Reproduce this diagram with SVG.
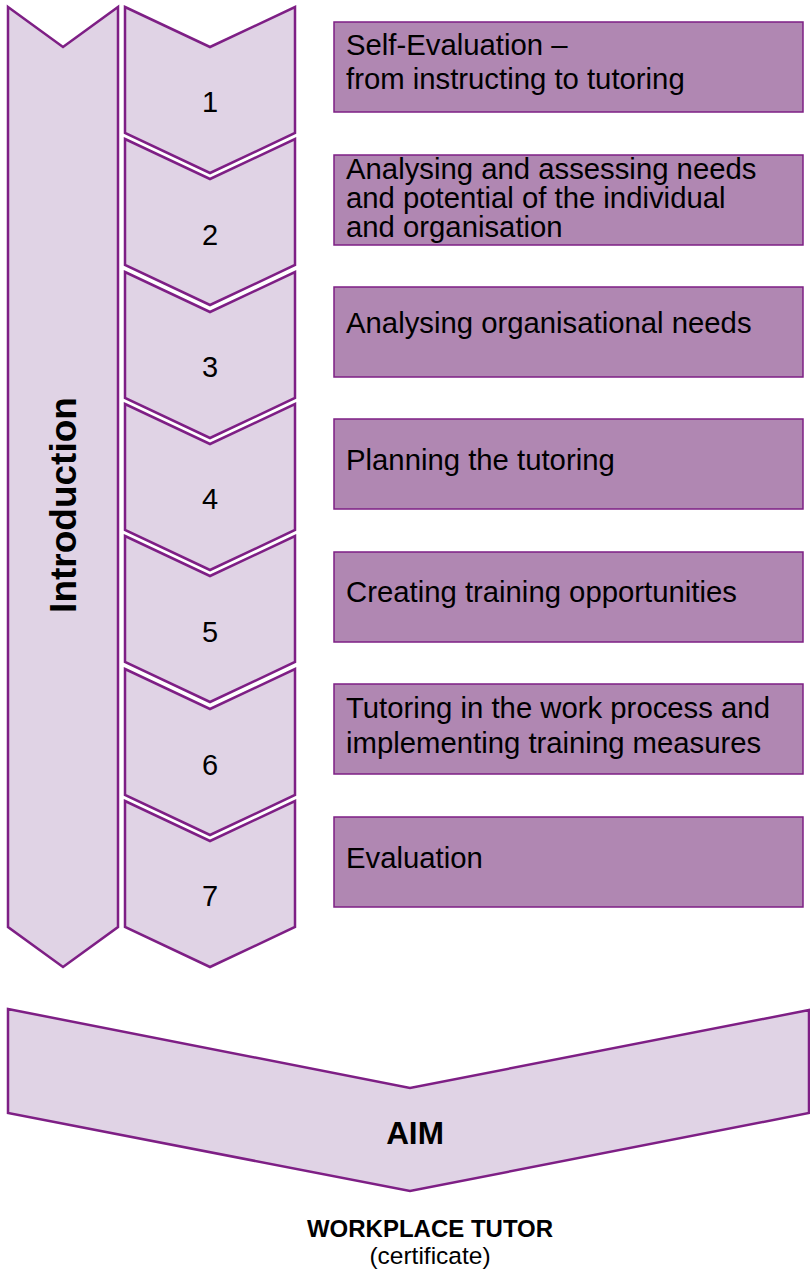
<svg xmlns="http://www.w3.org/2000/svg" width="810" height="1269" viewBox="0 0 810 1269">
<style>
.arrow{fill:#E0D3E5;stroke:#7E1F85;stroke-width:2.5;stroke-linejoin:miter}
.box{fill:#B087B2;stroke:#7E1F85;stroke-width:1.5}
.t{font-family:"Liberation Sans",Arial,sans-serif;font-size:29.3px;fill:#000}
.num{font-family:"Liberation Sans",Arial,sans-serif;font-size:29px;fill:#000;text-anchor:middle}
.b{font-family:"Liberation Sans",Arial,sans-serif;font-weight:bold;fill:#000;text-anchor:middle}
.n{font-family:"Liberation Sans",Arial,sans-serif;fill:#000;text-anchor:middle}
</style>
<rect width="810" height="1269" fill="#fff"/>
<g id="introduction">
<polygon class="arrow" points="8,7 63,47 118,7 118,927 63,967 8,927"/>
<text class="b" font-size="37" transform="translate(76,505) rotate(-90)">Introduction</text>
</g>
<g id="step1">
<polygon class="arrow" points="125,7 210,47 295,7 295,133 210,173 125,133"/>
<text class="num" x="210" y="112">1</text>
</g>
<g id="step2">
<polygon class="arrow" points="125,139 210,179 295,139 295,265 210,305 125,265"/>
<text class="num" x="210" y="245">2</text>
</g>
<g id="step3">
<polygon class="arrow" points="125,272 210,312 295,272 295,398 210,438 125,398"/>
<text class="num" x="210" y="377">3</text>
</g>
<g id="step4">
<polygon class="arrow" points="125,404 210,444 295,404 295,530 210,570 125,530"/>
<text class="num" x="210" y="509">4</text>
</g>
<g id="step5">
<polygon class="arrow" points="125,536 210,576 295,536 295,662 210,702 125,662"/>
<text class="num" x="210" y="642">5</text>
</g>
<g id="step6">
<polygon class="arrow" points="125,669 210,709 295,669 295,795 210,835 125,795"/>
<text class="num" x="210" y="775">6</text>
</g>
<g id="step7">
<polygon class="arrow" points="125,801 210,841 295,801 295,927 210,967 125,927"/>
<text class="num" x="210" y="906">7</text>
</g>
<g id="box1">
<rect class="box" x="334" y="22" width="469" height="90"/>
<text class="t" x="346" y="55">Self-Evaluation –</text>
<text class="t" x="346" y="89">from instructing to tutoring</text>
</g>
<g id="box2">
<rect class="box" x="334" y="155" width="469" height="90"/>
<text class="t" x="346" y="179">Analysing and assessing needs</text>
<text class="t" x="346" y="208">and potential of the individual</text>
<text class="t" x="346" y="237">and organisation</text>
</g>
<g id="box3">
<rect class="box" x="334" y="287" width="469" height="90"/>
<text class="t" x="346" y="333">Analysing organisational needs</text>
</g>
<g id="box4">
<rect class="box" x="334" y="419" width="469" height="90"/>
<text class="t" x="346" y="470">Planning the tutoring</text>
</g>
<g id="box5">
<rect class="box" x="334" y="552" width="469" height="90"/>
<text class="t" x="346" y="602">Creating training opportunities</text>
</g>
<g id="box6">
<rect class="box" x="334" y="684" width="469" height="90"/>
<text class="t" x="346" y="718">Tutoring in the work process and</text>
<text class="t" x="346" y="753">implementing training measures</text>
</g>
<g id="box7">
<rect class="box" x="334" y="817" width="469" height="90"/>
<text class="t" x="346" y="868">Evaluation</text>
</g>
<g id="aim">
<polygon class="arrow" points="8,1009 410,1088 809,1010 809,1113 410,1191 8,1113"/>
<text class="b" font-size="31.5" x="415" y="1144">AIM</text>
</g>
<g id="goal">
<text class="b" font-size="24" x="430" y="1237">WORKPLACE TUTOR</text>
<text class="n" font-size="24.5" x="430" y="1264">(certificate)</text>
</g>
<g id="connectors"/>
</svg>
